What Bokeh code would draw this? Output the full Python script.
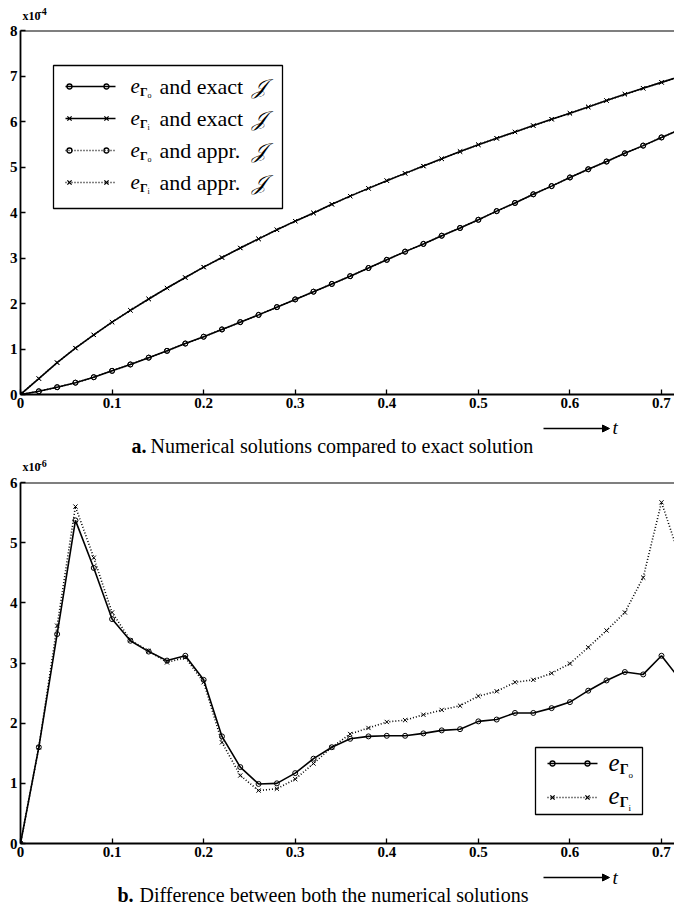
from bokeh.plotting import figure
from bokeh.layouts import column
from bokeh.models import Range1d, FixedTicker, Label, LinearAxis, Arrow, NormalHead, Span
from bokeh.embed import file_html
from bokeh.resources import INLINE

# ---------------- data ----------------
t = [0.00, 0.02, 0.04, 0.06, 0.08, 0.10, 0.12, 0.14, 0.16, 0.18, 0.20, 0.22,
     0.24, 0.26, 0.28, 0.30, 0.32, 0.34, 0.36, 0.38, 0.40, 0.42, 0.44, 0.46,
     0.48, 0.50, 0.52, 0.54, 0.56, 0.58, 0.60, 0.62, 0.64, 0.66, 0.68, 0.70, 0.72]

# panel a (x 1e-4)
e_r0_exact = [0, 0.07, 0.16, 0.26, 0.38, 0.52, 0.66, 0.81, 0.96, 1.12, 1.27, 1.43,
              1.59, 1.75, 1.92, 2.09, 2.26, 2.43, 2.60, 2.78, 2.96, 3.14, 3.31, 3.49,
              3.66, 3.84, 4.03, 4.21, 4.40, 4.58, 4.77, 4.95, 5.12, 5.30, 5.47, 5.65, 5.82]
e_ri_exact = [0, 0.35, 0.70, 1.02, 1.31, 1.59, 1.85, 2.10, 2.34, 2.57, 2.80, 3.01,
              3.22, 3.42, 3.62, 3.81, 3.99, 4.18, 4.36, 4.53, 4.70, 4.86, 5.02, 5.18,
              5.34, 5.49, 5.63, 5.77, 5.91, 6.05, 6.18, 6.32, 6.46, 6.60, 6.73, 6.86, 6.99]
e_r0_appr = [0, 0.07, 0.16, 0.26, 0.38, 0.52, 0.66, 0.81, 0.96, 1.12, 1.27, 1.43,
             1.59, 1.75, 1.92, 2.09, 2.26, 2.43, 2.60, 2.78, 2.96, 3.14, 3.31, 3.49,
             3.66, 3.84, 4.03, 4.21, 4.40, 4.58, 4.77, 4.95, 5.12, 5.30, 5.47, 5.65, 5.82]
e_ri_appr = [0, 0.35, 0.70, 1.02, 1.31, 1.59, 1.85, 2.10, 2.34, 2.57, 2.80, 3.01,
             3.22, 3.42, 3.62, 3.81, 3.99, 4.18, 4.36, 4.53, 4.70, 4.86, 5.02, 5.18,
             5.34, 5.49, 5.63, 5.77, 5.91, 6.05, 6.18, 6.32, 6.46, 6.60, 6.73, 6.86, 6.99]

# panel b (x 1e-6)
diff_r0 = [0, 1.60, 3.48, 5.37, 4.58, 3.73, 3.37, 3.19, 3.04, 3.12, 2.72, 1.78,
           1.27, 0.99, 1.00, 1.17, 1.41, 1.60, 1.74, 1.78, 1.79, 1.79, 1.83, 1.88,
           1.90, 2.03, 2.06, 2.17, 2.17, 2.25, 2.35, 2.54, 2.71, 2.85, 2.81, 3.12, 2.73]
diff_ri = [0, 1.60, 3.62, 5.60, 4.75, 3.84, 3.38, 3.20, 3.01, 3.09, 2.68, 1.68,
           1.13, 0.88, 0.91, 1.07, 1.33, 1.60, 1.82, 1.92, 2.02, 2.05, 2.14, 2.22,
           2.29, 2.45, 2.53, 2.68, 2.72, 2.83, 2.99, 3.26, 3.54, 3.84, 4.42, 5.67, 4.76]

x_ticks = [0, 0.1, 0.2, 0.3, 0.4, 0.5, 0.6, 0.7]
x_tick_labels = {0: "0", 0.1: "0.1", 0.2: "0.2", 0.3: "0.3", 0.4: "0.4",
                 0.5: "0.5", 0.6: "0.6", 0.7: "0.7"}
y_ticks_a = [0, 1, 2, 3, 4, 5, 6, 7, 8]
y_ticks_b = [0, 1, 2, 3, 4, 5, 6]

# ---------------- styling helpers ----------------
SERIF = "Liberation Serif"
W = 674
L = 20
XMAX = 0.7142
LW = 1.6
BASE = 0.32  # label anchor -> alphabetic baseline correction (fraction of font size)
BB = 21      # bottom border of the plots (x tick labels)


def style_axis(ax, ticks, size, overrides=None):
    ax.ticker = FixedTicker(ticks=ticks)
    ax.major_tick_in = 5
    ax.major_tick_out = 0
    ax.minor_tick_line_color = None
    ax.axis_line_width = 1.8
    ax.axis_line_color = "black"
    ax.major_tick_line_width = 1.3
    ax.major_tick_line_color = "black"
    ax.major_label_text_font = SERIF
    ax.major_label_text_font_style = "bold"
    ax.major_label_text_color = "black"
    ax.major_label_text_font_size = size
    ax.major_label_standoff = 3
    if overrides:
        ax.major_label_overrides = overrides


def make_fig(btop, fh, bbottom, ymax, yticks):
    p = figure(width=W, height=btop + fh + bbottom, output_backend="svg",
               toolbar_location=None,
               x_range=Range1d(0, XMAX), y_range=Range1d(0, ymax),
               x_axis_location=None, y_axis_location=None,
               min_border_left=L, min_border_right=0,
               min_border_top=btop, min_border_bottom=bbottom)
    p.grid.visible = False
    p.outline_line_color = None
    bottom = LinearAxis()
    style_axis(bottom, x_ticks, "15px", x_tick_labels)
    p.add_layout(bottom, "below")
    left = LinearAxis()
    style_axis(left, yticks, "15px")
    p.add_layout(left, "left")
    p.add_layout(Span(location=ymax, dimension="width", line_color="black", line_width=1.8))
    p.extra_x_ranges = {"px": Range1d(0, W - L)}
    p.extra_y_ranges = {"py": Range1d(0, fh)}
    return p


def text_fig(h):
    # x in page pixels (frame starts at L like the plots), y in pixels from bottom
    p = figure(width=W, height=h, output_backend="svg", toolbar_location=None,
               x_range=Range1d(L, W), y_range=Range1d(0, h),
               x_axis_location=None, y_axis_location=None,
               min_border_left=L, min_border_right=0, min_border_top=0, min_border_bottom=0)
    p.grid.visible = False
    p.outline_line_color = None
    return p


def slab(p, fb, X, Y, text, size, style="normal"):
    # label in frame-relative pixels; (X, Y) = page position of alphabetic baseline start
    p.add_layout(Label(x=X - L, y=fb - Y + BASE * size, x_units="screen", y_units="screen",
                       text=text, text_font=SERIF, text_font_size=f"{size}px",
                       text_font_style=style, text_align="left",
                       text_baseline="alphabetic", text_color="black"))


def dlab(p, pbot, X, Y, text, size, style="normal"):
    # label in a text figure; pbot = page y of the figure's bottom edge
    p.add_layout(Label(x=X, y=pbot - Y + BASE * size, text=text, text_font=SERIF,
                       text_font_size=f"{size}px", text_font_style=style,
                       text_align="left", text_baseline="alphabetic", text_color="black"))


def sample(p, fb, X1, X2, Y, m1, m2, marker, dash, msize):
    p.line([X1 - L, X2 - L], [fb - Y, fb - Y], x_range_name="px", y_range_name="py",
           line_color="black", line_width=LW, line_dash=dash)
    p.scatter([m1 - L, m2 - L], [fb - Y, fb - Y], x_range_name="px", y_range_name="py",
              marker=marker, size=msize, line_color="black", fill_color=None, line_width=1.3)


def e_sym(p, fb, X, Y, sub, esize, ssize, sssize):
    slab(p, fb, X, Y, "e", esize, "italic")
    slab(p, fb, X + esize * 0.45, Y + esize * 0.15, "\u0393", ssize, "bold")
    slab(p, fb, X + esize * 0.45 + ssize * 0.62, Y + esize * 0.28, sub, sssize)


def caption_fig(ptop, pbot, arrow_Y, t_Y, cap_Y, bold, rest, bold_x, rest_x):
    p = text_fig(pbot - ptop)
    p.add_layout(Arrow(x_start=543, y_start=pbot - arrow_Y, x_end=609, y_end=pbot - arrow_Y,
                       line_width=1.4, line_color="black",
                       end=NormalHead(size=7, fill_color="black", line_color="black")))
    dlab(p, pbot, 612, t_Y, "t", 19, "italic")
    dlab(p, pbot, bold_x, cap_Y, bold, 20, "bold")
    dlab(p, pbot, rest_x, cap_Y, rest, 20)
    return p


def head_fig(ptop, pbot, base_Y, exp_Y, exp):
    p = text_fig(pbot - ptop)
    dlab(p, pbot, 22, base_Y, "x10", 12, "bold")
    dlab(p, pbot, 38, exp_Y, exp, 10, "bold")
    return p


# ---------------- panel a ----------------
# page: head 0-22, plot 22-415 (frame 30-394), caption 415-457
head_a = head_fig(0, 22, 19, 14, "-4")
FBa = 394
pa = make_fig(8, 364, BB, 8, y_ticks_a)
pa.line(t, e_r0_appr, line_color="black", line_width=LW, line_dash="1 2")
pa.scatter(t, e_r0_appr, marker="circle", size=5, line_color="black", fill_color=None)
pa.line(t, e_ri_appr, line_color="black", line_width=LW, line_dash="1 2")
pa.scatter(t, e_ri_appr, marker="x", size=6, line_color="black")
pa.line(t, e_r0_exact, line_color="black", line_width=LW)
pa.scatter(t, e_r0_exact, marker="circle", size=5, line_color="black", fill_color=None)
pa.line(t, e_ri_exact, line_color="black", line_width=LW)
pa.scatter(t, e_ri_exact, marker="x", size=6, line_color="black")

pa.quad(left=[53 - L], right=[282 - L], top=[FBa - 65], bottom=[FBa - 208],
        x_range_name="px", y_range_name="py", fill_color="white",
        line_color="black", line_width=1.3)
rows_a = [(86, "circle", "solid", "o", "and exact"),
          (118, "x", "solid", "i", "and exact"),
          (150, "circle", "1 2", "o", "and appr."),
          (182, "x", "1 2", "i", "and appr.")]
for Y, mk, dash, sub, txt in rows_a:
    sample(pa, FBa, 65, 115, Y, 69, 106, mk, dash, 5 if mk == "circle" else 6)
    e_sym(pa, FBa, 130, Y + 6, sub, 21, 12, 8)
    slab(pa, FBa, 159, Y + 7, txt, 22)
    slab(pa, FBa, 251, Y + 7, "\U0001D4A5", 21, "italic")

cap_a = caption_fig(FBa + BB, 457, 428, 433, 452, "a.",
                    "Numerical solutions compared to exact solution", 131, 150)

# ---------------- panel b ----------------
# page: head 457-474, plot 474-864 (frame 482-843), caption 864-908
head_b = head_fig(457, 474, 470, 466, "-6")
FBb = 843
pb = make_fig(8, 361, BB, 6, y_ticks_b)
pb.line(t, diff_ri, line_color="black", line_width=LW, line_dash="1 2")
pb.scatter(t, diff_ri, marker="x", size=6, line_color="black")
pb.line(t, diff_r0, line_color="black", line_width=LW)
pb.scatter(t, diff_r0, marker="circle", size=5, line_color="black", fill_color=None)

pb.quad(left=[535 - L], right=[642 - L], top=[FBb - 747], bottom=[FBb - 814],
        x_range_name="px", y_range_name="py", fill_color="white",
        line_color="black", line_width=1.3)
sample(pb, FBb, 547, 597, 763, 552, 587, "circle", "solid", 5)
sample(pb, FBb, 547, 597, 797, 552, 587, "x", "1 2", 6)
e_sym(pb, FBb, 608, 770, "o", 25, 14, 9)
e_sym(pb, FBb, 608, 803, "i", 25, 14, 9)

cap_b = caption_fig(FBb + BB, 908, 877, 883, 901, "b.",
                    "Difference between both the numerical solutions", 117, 139)

layout = column(head_a, pa, cap_a, head_b, pb, cap_b, spacing=0)
open("out.html", "w").write(file_html(layout, INLINE))
